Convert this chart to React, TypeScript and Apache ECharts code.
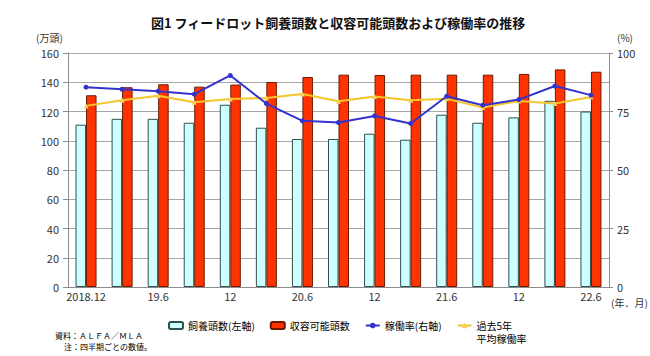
import React, { useEffect, useRef } from "react";
import * as echarts from "echarts";

const categories = [
  "2018.12", "2019.3", "2019.6", "2019.9", "2019.12",
  "2020.3", "2020.6", "2020.9", "2020.12",
  "2021.3", "2021.6", "2021.9", "2021.12",
  "2022.3", "2022.6",
];
const tickLabels = [
  "2018.12", "", "19.6", "", "12", "", "20.6", "", "12", "", "21.6", "", "12", "", "22.6",
];
const feeding = [111, 115, 115, 112.3, 124.6, 108.9, 101.2, 101.2, 104.8, 100.7, 117.8, 112.3, 116, 127.3, 120];
const capacity = [131.1, 136.6, 138.6, 137.0, 138.4, 140.2, 143.6, 145.2, 145.0, 145.2, 145.2, 145.2, 145.7, 148.8, 147.2];
const utilization = [85.4, 84.5, 83.7, 82.4, 90.4, 78.4, 71.0, 70.3, 73.1, 69.9, 81.5, 77.7, 80.1, 85.9, 82.0];
const avg5y = [77.4, 79.8, 81.7, 79.0, 80.3, 80.8, 82.5, 79.4, 81.4, 79.8, 80.4, 76.7, 79.5, 78.4, 81.2];

const leftTicks = { min: 0, max: 160, interval: 20 };
const rightTicks = { min: 0, max: 100, interval: 25 };

const FONT = '"Noto Sans CJK JP", "Noto Sans", sans-serif';

export default function App() {
  const ref = useRef<HTMLDivElement>(null);
  useEffect(() => {
    if (!ref.current) return;
    const chart = echarts.init(ref.current, undefined, { renderer: "svg" });
    chart.setOption({
      animation: false,
      textStyle: { fontFamily: FONT },
      title: {
        text: "図1 フィードロット飼養頭数と収容可能頭数および稼働率の推移",
        left: 151,
        top: 16,
        padding: 0,
        textStyle: { fontSize: 13, fontWeight: "bold", color: "#111", fontFamily: FONT },
      },
      grid: { left: 68, right: 41, top: 53, bottom: 69, containLabel: false },
      legend: {
        left: 168,
        top: 306,
        padding: 0,
        itemWidth: 14,
        itemHeight: 7,
        itemGap: 15,
        textStyle: { fontSize: 10, color: "#000", fontFamily: FONT, lineHeight: 13 },
        formatter: (name: string) => (name.indexOf("\n") >= 0 ? " \n" + name : name),
        data: [
          { name: "飼養頭数(左軸)" },
          { name: "収容可能頭数" },
          { name: "稼働率(右軸)" },
          { name: "過去5年\n平均稼働率" },
        ],
      },
      xAxis: {
        type: "category",
        data: categories,
        boundaryGap: true,
        axisLine: { lineStyle: { color: "#8c8c8c" } },
        axisTick: { interval: 0, length: 4, lineStyle: { color: "#8c8c8c" } },
        axisLabel: {
          interval: 0,
          margin: 3,
          fontSize: 11,
          color: "#333",
          formatter: (_v: string, i: number) => tickLabels[i],
        },
      },
      yAxis: [
        {
          type: "value",
          ...leftTicks,
          axisLine: { show: true, lineStyle: { color: "#8c8c8c" } },
          axisTick: { show: true, length: 5, lineStyle: { color: "#8c8c8c" } },
          axisLabel: { fontSize: 11, color: "#333", margin: 9 },
          splitLine: { show: true, lineStyle: { color: "#a6a6a6", width: 1 } },
        },
        {
          type: "value",
          ...rightTicks,
          position: "right",
          axisLine: { show: true, lineStyle: { color: "#8c8c8c" } },
          axisTick: { show: true, length: 4, lineStyle: { color: "#8c8c8c" } },
          axisLabel: { fontSize: 11, color: "#333", margin: 8 },
          splitLine: { show: false },
        },
      ],
      series: [
        {
          name: "飼養頭数(左軸)",
          type: "bar",
          data: feeding,
          barWidth: 10.5,
          barGap: "0%",
          itemStyle: { color: "#ccffff", borderColor: "#2f4f4f", borderWidth: 1 },
        },
        {
          name: "収容可能頭数",
          type: "bar",
          data: capacity,
          barWidth: 10.5,
          barGap: "0%",
          itemStyle: { color: "#ff3300", borderColor: "#6b1a00", borderWidth: 1 },
        },
        {
          name: "過去5年\n平均稼働率",
          type: "line",
          yAxisIndex: 1,
          data: avg5y,
          symbol: "triangle",
          symbolSize: 5,
          lineStyle: { color: "#f5c52a", width: 2 },
          itemStyle: { color: "#f5d060" },
        },
        {
          name: "稼働率(右軸)",
          type: "line",
          yAxisIndex: 1,
          data: utilization,
          symbol: "circle",
          symbolSize: 5,
          lineStyle: { color: "#3333cc", width: 2 },
          itemStyle: { color: "#3333cc" },
        },
      ],
      graphic: [
        { type: "text", left: 36, top: 32, style: { text: "(万頭)", fontSize: 10, fill: "#333", fontFamily: FONT } },
        { type: "text", left: 617, top: 32, style: { text: "(%)", fontSize: 10, fill: "#333", fontFamily: FONT } },
        { type: "text", left: 611, top: 297, style: { text: "(年．月)", fontSize: 10, fill: "#333", fontFamily: FONT } },
        { type: "text", left: 55, top: 331, style: { text: "資料：ＡＬＦＡ／ＭＬＡ", fontSize: 8, fill: "#000", fontFamily: FONT } },
        { type: "text", left: 64, top: 342, style: { text: "注：四半期ごとの数値。", fontSize: 8, fill: "#000", fontFamily: FONT } },
      ],
    });
    return () => chart.dispose();
  }, []);
  return <div ref={ref} style={{ width: 650, height: 356, position: "absolute", left: 0, top: 0 }} />;
}
